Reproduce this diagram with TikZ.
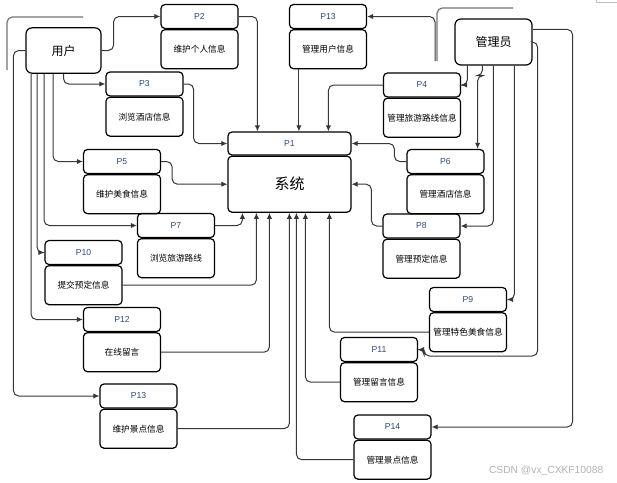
\documentclass[tikz,border=0pt]{standalone}
\usepackage{fontspec}
\setmainfont{Liberation Sans}
\newfontfamily\cjk{Noto Sans CJK SC}
\usepackage{tikz}
\usetikzlibrary {arrows.meta,
                 positioning,
                 calc}
\definecolor{plabel}{RGB}{45,75,125}
\definecolor{edgegray}{RGB}{55,55,55}
\tikzset{
        base/.style={draw, rounded corners=3pt, line width=0.9pt, inner sep=0pt, align=center},
        role/.style={base, rounded corners=4.5pt, minimum width=56.25pt, minimum height=34pt,
                     font=\cjk\fontsize{9}{10}\selectfont},
        phead/.style={base, minimum width=57.75pt, minimum height=18pt, text=plabel,
                      font=\fontsize{6.5}{7}\selectfont},
        pbody/.style={base, minimum width=57.75pt, minimum height=29.25pt,
                      font=\cjk\fontsize{6.5}{7}\selectfont},
        myarrow/.style={-{Latex[length=4.5pt,width=4pt]}, line width=0.75pt, draw=edgegray,
                        rounded corners=4pt},
        stray/.style={line width=0.9pt, draw=black!55, rounded corners=4pt},
 }

\begin{document}
\begin{tikzpicture}[x=0.75pt, y=-0.75pt]
    \useasboundingbox (0,0) rectangle (617,482);

    \node[role] (user) at (63.5,50.5) {用户};
    \node[role, minimum width=57.75pt, minimum height=34.5pt] (admin) at (493.5,42) {管理员};

    \node[phead, minimum width=92.25pt, minimum height=17.25pt] (p1h) at (289.5,143.5) {P1};
    \node[pbody, minimum width=92.25pt, minimum height=42pt, below=0pt of p1h,
          font=\cjk\fontsize{11.25}{12}\selectfont] (p1b) {系统};

    \node[phead] (p2h) at (199.5,16.5) {P2};
    \node[pbody, below=0pt of p2h] (p2b) {维护个人信息};
    \node[phead] (p3h) at (144.5,84) {P3};
    \node[pbody, below=0pt of p3h] (p3b) {浏览酒店信息};
    \node[phead] (p13ah) at (328,16.5) {P13};
    \node[pbody, below=0pt of p13ah] (p13ab) {管理用户信息};
    \node[phead] (p4h) at (422,85) {P4};
    \node[pbody, below=0pt of p4h] (p4b) {管理旅游路线信息};
    \node[phead] (p5h) at (122,161.5) {P5};
    \node[pbody, below=0pt of p5h] (p5b) {维护美食信息};
    \node[phead] (p6h) at (445.5,161.5) {P6};
    \node[pbody, below=0pt of p6h] (p6b) {管理酒店信息};
    \node[phead] (p7h) at (176,225.5) {P7};
    \node[pbody, below=0pt of p7h] (p7b) {浏览旅游路线};
    \node[phead] (p8h) at (421.5,226) {P8};
    \node[pbody, below=0pt of p8h] (p8b) {管理预定信息};
    \node[phead] (p9h) at (468,299.5) {P9};
    \node[pbody, below=0pt of p9h] (p9b) {管理特色美食信息};
    \node[phead] (p10h) at (83.5,252.5) {P10};
    \node[pbody, below=0pt of p10h] (p10b) {提交预定信息};
    \node[phead] (p11h) at (379,349.5) {P11};
    \node[pbody, below=0pt of p11h] (p11b) {管理留言信息};
    \node[phead] (p12h) at (122,319.5) {P12};
    \node[pbody, below=0pt of p12h] (p12b) {在线留言};
    \node[phead] (p13bh) at (138.5,396) {P13};
    \node[pbody, below=0pt of p13bh] (p13bb) {维护景点信息};
    \node[phead] (p14h) at (392.5,427) {P14};
    \node[pbody, below=0pt of p14h] (p14b) {管理景点信息};

    % user side
    \draw[myarrow] (user.east) -- ++(12,0) |- (p2h.west);
    \draw[myarrow] (user.south) |- (p3h.west);
    \draw[myarrow] ($(user.south)+(-10.5,0)$) |- (p5h.west);
    \draw[myarrow] ($(user.south)+(-19.5,0)$) |- (p7h.west);
    \draw[myarrow] ($(user.south)+(-26.5,0)$) |- (p10h.west);
    \draw[myarrow] ($(user.south)+(-32.5,0)$) |- (p12h.west);
    \draw[myarrow] (user.west) -- ++(-12,0) |- (p13bh.west);

    % into the system
    \draw[myarrow] (p2h.east) -| ($(p1h.north west)+(30,0)$);
    \draw[myarrow] ($(p13ab.south west)+(10,0)$) coordinate (m13) -- (m13 |- p1h.north);
    \draw[myarrow] (p4h.west) -| ($(p1h.north west)+(101,0)$);
    \draw[myarrow] (p3h.east) -- ++(10,0) |- (p1h.west);
    \draw[myarrow] (p5h.east) -- ++(11,0) |- (p1b.west);
    \draw[myarrow] (p7h.east) -| ($(p1b.south west)+(15,0)$);
    \draw[myarrow] (p10b.east) -| ($(p1b.south west)+(29,0)$);
    \draw[myarrow] (p12b.east) -| ($(p1b.south west)+(42,0)$);
    \draw[myarrow] (p13bb.east) -| ($(p1b.south west)+(62,0)$);
    \draw[myarrow] (p14b.west) -| ($(p1b.south west)+(69,0)$);
    \draw[myarrow] (p11b.west) -| ($(p1b.south west)+(78,0)$);
    \draw[myarrow] (p9b.west) -| ($(p1b.south west)+(102,0)$);
    \draw[myarrow] (p6h.west) -- ++(-12,0) |- (p1h.east);
    \draw[myarrow] (p8h.west) -- ++(-11,0) |- (p1b.east);

    % admin side
    \draw[myarrow] ($(admin.south west)+(13,0)$) |- (p4h.east);
    \draw[myarrow] ($(admin.south west)+(28,0)$) -- ++(0,10) -| ($(p6h.north east)+(-7,0)$);
    \draw[myarrow] ($(admin.south west)+(39,0)$) |- (p8h.east);
    \draw[myarrow] ($(admin.south west)+(60,0)$) |- (p9h.east);
    \draw[myarrow] ($(admin.north east)+(0,11)$) -- ++(40,0) |- (p14h.east);
    \draw[myarrow] (admin.east) -- ++(5,0) -- ++(0,314) -| ($(p11h.east)+(6,0)$) -- (p11h.east);

    % loose ends
    \coordinate (loose) at (435,61);
    \draw[myarrow] (loose) |- (p13ah.east);
    \coordinate (strayA) at (437,61);
    \coordinate (strayB) at (7,70);
    \draw[stray] (strayA) |- (513,8);
    \draw[stray] (strayB) |- (83,17);
    \draw[black!25, line width=0.75pt] (596,0) |- (617,2);

    \node[text=black!30, font=\fontsize{7.7}{9}\selectfont, anchor=east] (mark) at (608,471)
         {CSDN @vx\_CXKF10088};
\end{tikzpicture}
\end{document}
